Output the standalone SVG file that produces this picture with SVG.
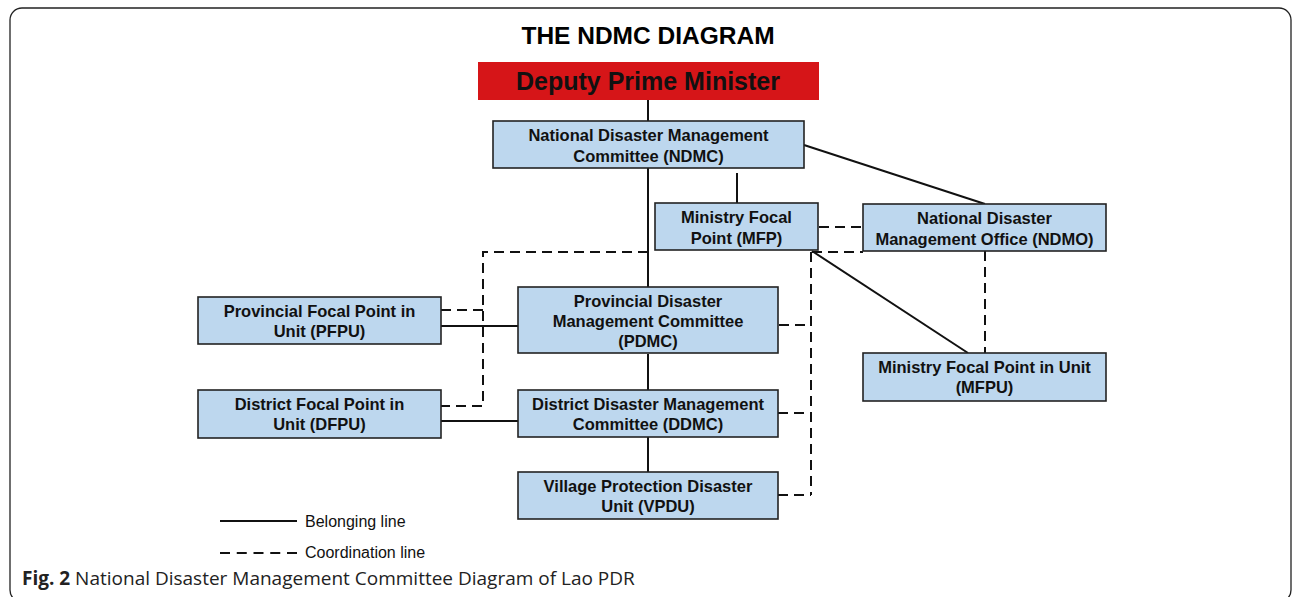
<svg xmlns="http://www.w3.org/2000/svg" width="1292" height="597" viewBox="0 0 1292 597">
<style>
.box{fill:#bdd7ee;stroke:#222;stroke-width:1.6}
.t{font-family:"Liberation Sans",Arial,sans-serif;font-weight:bold;font-size:16.5px;fill:#111;text-anchor:middle}
.solid{stroke:#111;stroke-width:2;fill:none}
.dash{stroke:#111;stroke-width:2;fill:none;stroke-dasharray:10 6}
.leg{font-family:"Liberation Sans",Arial,sans-serif;font-size:16px;fill:#111}
</style>
<rect x="0" y="0" width="1292" height="597" fill="#fff"/>
<rect x="10" y="8" width="1281" height="594" rx="12" fill="none" stroke="#222" stroke-width="1.3"/>
<text x="648" y="44" font-family="Liberation Sans,Arial,sans-serif" font-weight="bold" font-size="24.5" text-anchor="middle" fill="#000">THE NDMC DIAGRAM</text>

<g id="connectors">
<line class="solid" x1="648" y1="100" x2="648" y2="121"/>
<line class="solid" x1="648" y1="168" x2="648" y2="287"/>
<line class="solid" x1="737" y1="173" x2="737" y2="203"/>
<line class="solid" x1="804" y1="145" x2="985" y2="204"/>
<line class="solid" x1="812" y1="251" x2="968" y2="353"/>
<line class="solid" x1="648" y1="354" x2="648" y2="390"/>
<line class="solid" x1="648" y1="437" x2="648" y2="472"/>
<line class="solid" x1="441" y1="326" x2="518" y2="326"/>
<line class="solid" x1="441" y1="421" x2="518" y2="421"/>
<line class="dash" x1="819" y1="227" x2="863" y2="227"/>
<line class="dash" x1="812" y1="252" x2="863" y2="252"/>
<line class="dash" x1="811" y1="252" x2="811" y2="495"/>
<line class="dash" x1="985" y1="251" x2="985" y2="353"/>
<line class="dash" x1="779" y1="325" x2="811" y2="325"/>
<line class="dash" x1="778" y1="413" x2="811" y2="413"/>
<line class="dash" x1="778" y1="495" x2="811" y2="495"/>
<polyline class="dash" points="648,252 483,252 483,406 441,406"/>
<line class="dash" x1="441" y1="310" x2="483" y2="310"/>
</g>

<g id="dpm">
<rect x="478" y="62" width="341" height="38" fill="#d61518"/>
<text x="648" y="90" font-family="Liberation Sans,Arial,sans-serif" font-weight="bold" font-size="25" text-anchor="middle" fill="#111">Deputy Prime Minister</text>
</g>
<g id="ndmc">
<rect class="box" x="493" y="121" width="311" height="47"/>
<text class="t" x="648.5" y="141">National Disaster Management</text>
<text class="t" x="648.5" y="162">Committee (NDMC)</text>
</g>
<g id="mfp">
<rect class="box" x="655" y="203" width="163" height="47"/>
<text class="t" x="736.5" y="223">Ministry Focal</text>
<text class="t" x="736.5" y="244">Point (MFP)</text>
</g>
<g id="ndmo">
<rect class="box" x="863" y="204" width="243" height="47"/>
<text class="t" x="984.5" y="224">National Disaster</text>
<text class="t" x="984.5" y="245">Management Office (NDMO)</text>
</g>
<g id="pfpu">
<rect class="box" x="198" y="297" width="243" height="47"/>
<text class="t" x="319.5" y="317">Provincial Focal Point in</text>
<text class="t" x="319.5" y="337">Unit (PFPU)</text>
</g>
<g id="pdmc">
<rect class="box" x="518" y="287" width="260" height="66"/>
<text class="t" x="648" y="307">Provincial Disaster</text>
<text class="t" x="648" y="327">Management Committee</text>
<text class="t" x="648" y="347">(PDMC)</text>
</g>
<g id="mfpu">
<rect class="box" x="863" y="353" width="243" height="48"/>
<text class="t" x="984.5" y="373">Ministry Focal Point in Unit</text>
<text class="t" x="984.5" y="393">(MFPU)</text>
</g>
<g id="dfpu">
<rect class="box" x="198" y="390" width="243" height="48"/>
<text class="t" x="319.5" y="410">District Focal Point in</text>
<text class="t" x="319.5" y="430">Unit (DFPU)</text>
</g>
<g id="ddmc">
<rect class="box" x="518" y="390" width="260" height="47"/>
<text class="t" x="648" y="410">District Disaster Management</text>
<text class="t" x="648" y="430">Committee (DDMC)</text>
</g>
<g id="vpdu">
<rect class="box" x="518" y="472" width="260" height="47"/>
<text class="t" x="648" y="492">Village Protection Disaster</text>
<text class="t" x="648" y="512">Unit (VPDU)</text>
</g>

<g id="legend">
<line class="solid" x1="220" y1="521" x2="297" y2="521"/>
<text class="leg" x="305" y="527">Belonging line</text>
<line class="dash" x1="220" y1="553" x2="297" y2="553" style="stroke-dasharray:10 6.75"/>
<text class="leg" x="305" y="558">Coordination line</text>
</g>
<g id="caption">
<text x="22" y="585" font-family="Open Sans,Noto Sans,sans-serif" font-size="19" fill="#222"><tspan font-weight="bold">Fig. 2</tspan> National Disaster Management Committee Diagram of Lao PDR</text>
</g>
</svg>
